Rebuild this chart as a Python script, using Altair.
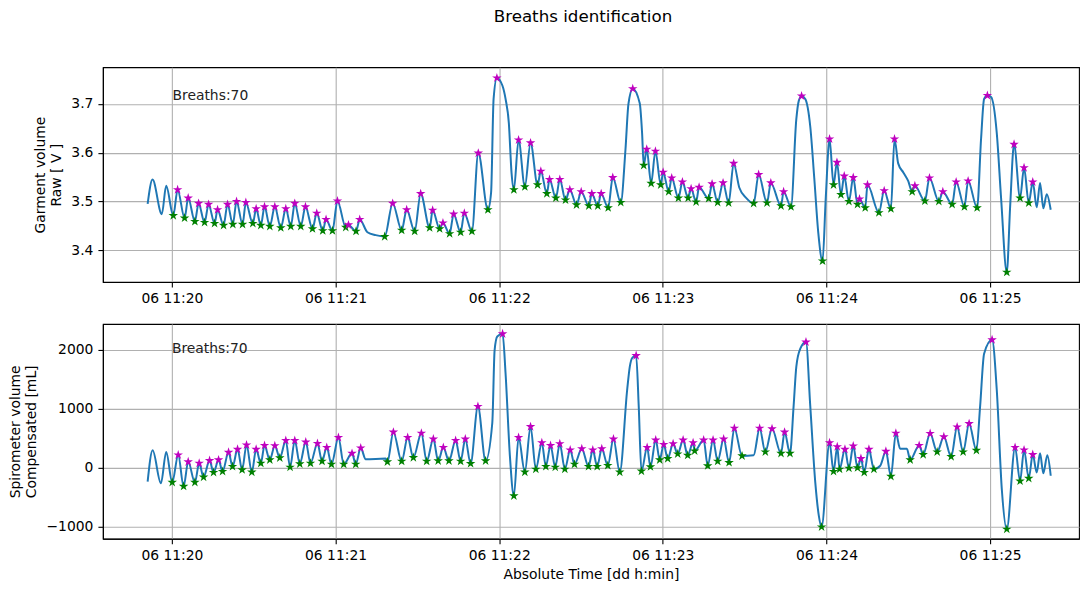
import altair as alt
import pandas as pd

# ---------------- data (time in seconds after 11:20:00 on day 06) ----------------
TOP_TROUGH_T = [0.5, 4.65, 8.42, 11.98, 15.64, 18.94, 22.34, 25.9, 29.67, 32.6, 35.9, 39.93, 43.59, 47.25,
                51.54, 55.31, 58.86, 63.74, 67.51, 78.02, 84.25, 89.01, 94.51, 98.17, 101.83, 105.86, 110.0,
                115.86, 125.38, 129.41, 134.07, 137.47, 140.77, 144.32, 148.35, 152.86, 156.15, 159.96, 164.58,
                173.0, 175.71, 179.23, 182.16, 185.71, 189.27, 192.2, 196.81, 200.11, 204.14, 213.3, 218.2,
                223.33, 227.0, 238.57, 242.6, 245.31, 248.24, 251.39, 254.21, 259.23, 263.63, 271.43, 276.08,
                281.21, 286.08, 290.59, 295.24, 306.12, 310.99, 314.18]
TOP_TROUGH_V = [3.471, 3.466, 3.459, 3.457, 3.455, 3.451, 3.453, 3.453, 3.455, 3.451,
                3.449, 3.446, 3.449, 3.449, 3.444, 3.440, 3.440, 3.447, 3.439, 3.428,
                3.441, 3.439, 3.446, 3.444, 3.434, 3.437, 3.439, 3.483, 3.524, 3.530,
                3.534, 3.516, 3.507, 3.503, 3.493, 3.491, 3.491, 3.487, 3.498, 3.574,
                3.537, 3.534, 3.520, 3.507, 3.507, 3.499, 3.506, 3.498, 3.497, 3.496,
                3.497, 3.491, 3.489, 3.378, 3.534, 3.514, 3.500, 3.494, 3.487, 3.477,
                3.485, 3.520, 3.501, 3.500, 3.494, 3.489, 3.487, 3.355, 3.507, 3.497]
TOP_PEAK_T = [2.09, 5.97, 9.78, 13.44, 16.74, 20.4, 23.7, 27.11, 30.88, 33.96, 37.73, 41.76, 45.05, 48.97,
              53.11, 56.52, 60.7, 64.73, 68.86, 80.95, 86.08, 91.21, 95.6, 99.38, 103.3, 107.22, 112.34,
              119.16, 127.11, 131.5, 135.27, 138.46, 142.23, 145.9, 150.07, 153.96, 157.4, 161.65, 168.97,
              174.1, 177.29, 180.11, 183.26, 187.18, 190.37, 193.3, 198.06, 202.09, 205.97, 215.13, 219.6,
              224.29, 230.88, 241.14, 243.85, 246.52, 249.82, 252.12, 255.05, 261.17, 264.95, 272.42,
              277.77, 282.67, 287.55, 291.94, 299.01, 308.79, 312.45, 315.64]
TOP_PEAK_V = [3.524, 3.507, 3.496, 3.494, 3.483, 3.494, 3.500, 3.498, 3.485, 3.489,
              3.489, 3.485, 3.496, 3.489, 3.476, 3.463, 3.501, 3.452, 3.463, 3.496,
              3.483, 3.516, 3.482, 3.456, 3.474, 3.476, 3.599, 3.753, 3.626, 3.620,
              3.562, 3.545, 3.545, 3.524, 3.520, 3.516, 3.516, 3.549, 3.731, 3.607,
              3.603, 3.560, 3.548, 3.540, 3.526, 3.529, 3.536, 3.538, 3.578, 3.555,
              3.538, 3.520, 3.716, 3.628, 3.580, 3.552, 3.549, 3.505, 3.534, 3.522,
              3.628, 3.532, 3.548, 3.520, 3.540, 3.542, 3.717, 3.617, 3.569, 3.540]
# other samples of the garment signal (between / outside detected breaths)
TOP_OTHER_T = [-8.9, -7.1, -3.7, -2.1, 71.69, 74.73, 117.03, 117.95, 121.14, 122.34, 123.55, 124.54,
               166.3, 167.4, 171.54, 172.4, 208.06, 210.62, 228.94, 229.85, 232.23, 234.07, 235.53, 237.0,
               239.74, 266.3, 268.24, 269.96, 296.7, 297.8, 300.37, 302.45, 304.03, 307.33,
               317.1, 318.32, 319.52, 320.77, 322.23]
TOP_OTHER_V = [3.495, 3.545, 3.474, 3.532, 3.437, 3.431, 3.518, 3.710, 3.738, 3.710, 3.660, 3.558,
               3.606, 3.700, 3.701, 3.640, 3.528, 3.507, 3.668, 3.706, 3.710, 3.653, 3.548, 3.436,
               3.507, 3.578, 3.559, 3.542, 3.629, 3.710, 3.714, 3.640, 3.507, 3.487,
               3.488, 3.538, 3.486, 3.515, 3.483]

BOT_TROUGH_T = [0.11, 4.29, 8.42, 11.61, 15.27, 18.57, 22.23, 25.75, 29.3, 32.6, 35.9, 39.56, 43.33, 46.89,
                50.81, 55.05, 58.5, 63.0, 67.4, 79.01, 84.25, 88.53, 93.41, 97.62, 101.58, 105.86, 109.52,
                115.02, 125.38, 129.41, 133.44, 137.1, 140.55, 144.07, 147.62, 152.75, 155.93, 159.82, 164.21,
                172.16, 175.46, 178.86, 181.79, 185.46, 189.12, 191.68, 196.45, 200.11, 204.29, 209.05, 217.58,
                223.33, 226.63, 238.21, 242.6, 244.8, 248.24, 251.39, 253.85, 257.4, 263.63, 270.7, 275.46,
                280.59, 285.71, 290.11, 294.98, 306.12, 310.99, 314.18]
BOT_TROUGH_V = [-252, -319, -252, -163, -84, -67, 17, -39, -79, 72,
                129, 163, 5, 62, 72, 106, 55, 55, 55, 96,
                106, 168, 106, 113, 113, 106, 67, 113, -482, -79,
                -29, 17, 5, -29, 55, 17, 17, 34, -79, -62,
                12, 129, 151, 230, 207, 281, 29, 106, 84, 197,
                264, 240, 240, -1009, -67, -29, -12, -5, -84, -29,
                -151, 129, 219, 264, 185, 264, 291, -1047, -230, -185]
BOT_PEAK_T = [2.31, 5.97, 10.0, 13.81, 17.11, 20.77, 24.07, 27.36, 30.88, 33.96, 37.73, 41.76, 45.05, 49.08,
              53.37, 56.78, 61.06, 66.04, 69.23, 81.21, 86.45, 91.47, 95.86, 99.52, 104.03, 107.58, 112.2,
              121.25, 127.11, 131.5, 135.64, 138.83, 142.23, 146.04, 150.29, 154.32, 157.62, 161.9, 170.22,
              174.25, 177.4, 180.33, 183.77, 187.44, 191.1, 194.98, 198.42, 202.31, 206.23, 215.5, 220.04,
              224.65, 232.49, 241.14, 243.96, 246.78, 249.82, 252.64, 255.57, 261.79, 265.45, 273.99,
              278.02, 283.04, 287.91, 292.31, 300.73, 309.16, 312.45, 315.64]
BOT_PEAK_V = [213, 96, 72, 118, 129, 257, 308, 382, 308, 375,
              370, 459, 459, 432, 408, 341, 509, 240, 331, 600,
              509, 583, 482, 341, 459, 482, 1037, 2269, 509, 694,
              420, 375, 403, 298, 319, 298, 319, 482, 1900, 341,
              466, 392, 403, 466, 420, 466, 466, 482, 667, 667,
              656, 600, 2130, 420, 353, 308, 365, 151, 308, 274,
              583, 375, 577, 521, 689, 745, 2168, 341, 298, 219]
BOT_OTHER_T = [-8.9, -7.07, -4.03, -2.09, 71.06, 78.39, 117.47, 118.32, 119.3, 122.34, 123.92,
               166.92, 167.88, 168.86, 171.17, 213.3, 227.95, 228.94, 230.4, 234.07, 235.9, 237.18,
               259.71, 267.03, 269.49, 296.34, 297.8, 302.45, 304.29,
               317.1, 318.32, 319.52, 320.99, 322.23]
BOT_OTHER_V = [-240, 291, -269, 264, 140, 151, 756, 1989, 2224, 1597, 202,
               1316, 1710, 1866, 1037, 207, 1037, 1710, 2017, 1037, -252, -812,
               29, 319, 319, 1037, 1933, 1316, -365,
               -84, 240, -96, 207, -140]

BREATHS_TOP = 70
BREATHS_BOT = 70
X_TICKS = [0, 60, 120, 180, 240, 300]
TOP_TICKS = [3.4, 3.5, 3.6, 3.7]
BOT_TICKS = [-1000, 0, 1000, 2000]

# ---------------- styling ----------------
FONT = "DejaVu Sans"
X_DOMAIN = [-25.3, 332.6]
TOP_DOMAIN = [3.335, 3.775]
BOT_DOMAIN = [-1210, 2437]
STAR = ("M0,-1L0.2245,-0.309L0.951,-0.309L0.363,0.118L0.588,0.809L0,0.382"
        "L-0.588,0.809L-0.363,0.118L-0.951,-0.309L-0.2245,-0.309Z")
W, H = 977, 215


def series(tt, tv, pt, pv, ot, ov):
    df = pd.DataFrame({"t": list(tt) + list(pt) + list(ot), "v": list(tv) + list(pv) + list(ov)})
    return df.sort_values("t").reset_index(drop=True)


def panel(tt, tv, pt, pv, ot, ov, domain, ticks, ytitle, xtitle, label_expr, note_t, note_v, breaths):
    x_axis = dict(values=X_TICKS, labelExpr="'06 11:2' + format(datum.value / 60, 'd')",
                  grid=True, title=xtitle if xtitle else None)
    x = alt.X("t:Q", scale=alt.Scale(domain=X_DOMAIN, nice=False, zero=False), axis=alt.Axis(**x_axis))
    y = alt.Y("v:Q", scale=alt.Scale(domain=domain, nice=False, zero=False),
              axis=alt.Axis(values=ticks, title=ytitle, labelExpr=label_expr, titlePadding=7, grid=True))
    line = alt.Chart(series(tt, tv, pt, pv, ot, ov)).mark_line(
        color="#1f77b4", strokeWidth=2, interpolate="monotone", clip=True).encode(x=x, y=y)
    peaks = alt.Chart(pd.DataFrame({"t": pt, "v": pv})).mark_point(
        shape=STAR, filled=True, size=100, color="#bf00bf", opacity=1).encode(x=x, y=y)
    troughs = alt.Chart(pd.DataFrame({"t": tt, "v": tv})).mark_point(
        shape=STAR, filled=True, size=100, color="#008000", opacity=1).encode(x=x, y=y)
    note = alt.Chart(pd.DataFrame({"t": [note_t], "v": [note_v], "txt": [f"Breaths:{breaths}"]})).mark_text(
        align="left", baseline="middle", font=FONT, fontSize=13.9, color="#222222").encode(
        x=x, y=y, text="txt:N")
    return alt.layer(line, troughs, peaks, note).properties(width=W, height=H)


top = panel(TOP_TROUGH_T, TOP_TROUGH_V, TOP_PEAK_T, TOP_PEAK_V, TOP_OTHER_T, TOP_OTHER_V,
            TOP_DOMAIN, TOP_TICKS, ["Garment volume", "Raw [ V ]"], None,
            "format(datum.value, '.1f')", 0.2, 3.716, BREATHS_TOP)
bottom = panel(BOT_TROUGH_T, BOT_TROUGH_V, BOT_PEAK_T, BOT_PEAK_V, BOT_OTHER_T, BOT_OTHER_V,
               BOT_DOMAIN, BOT_TICKS, ["Spirometer volume", "Compensated [mL]"], "Absolute Time [dd h:min]",
               "replace(format(datum.value, 'd'), '-', '\u2212')", 0.0, 2017, BREATHS_BOT)

chart = alt.vconcat(top, bottom, spacing=16).properties(
    title=alt.TitleParams("Breaths identification", anchor="middle", dx=39, dy=-3, offset=38,
                          font=FONT, fontSize=16.7, fontWeight="normal", color="black"),
    padding={"left": 0, "top": 0, "right": 0, "bottom": 0},
).configure_axis(
    labelFont=FONT, labelFontSize=13.9, labelColor="black", labelPadding=5,
    titleFont=FONT, titleFontSize=13.9, titleFontWeight="normal", titleColor="black", titleLineHeight=16,
    tickColor="black", tickSize=5, tickWidth=1.1, domainColor="black", domainWidth=1.1,
    gridColor="#b0b0b0", gridWidth=1.1, gridOpacity=1,
).configure_axisX(titlePadding=5).configure_view(
    stroke="black", strokeWidth=1.1
)

chart.save("out.html", embed_options={"renderer": "svg", "actions": False})
